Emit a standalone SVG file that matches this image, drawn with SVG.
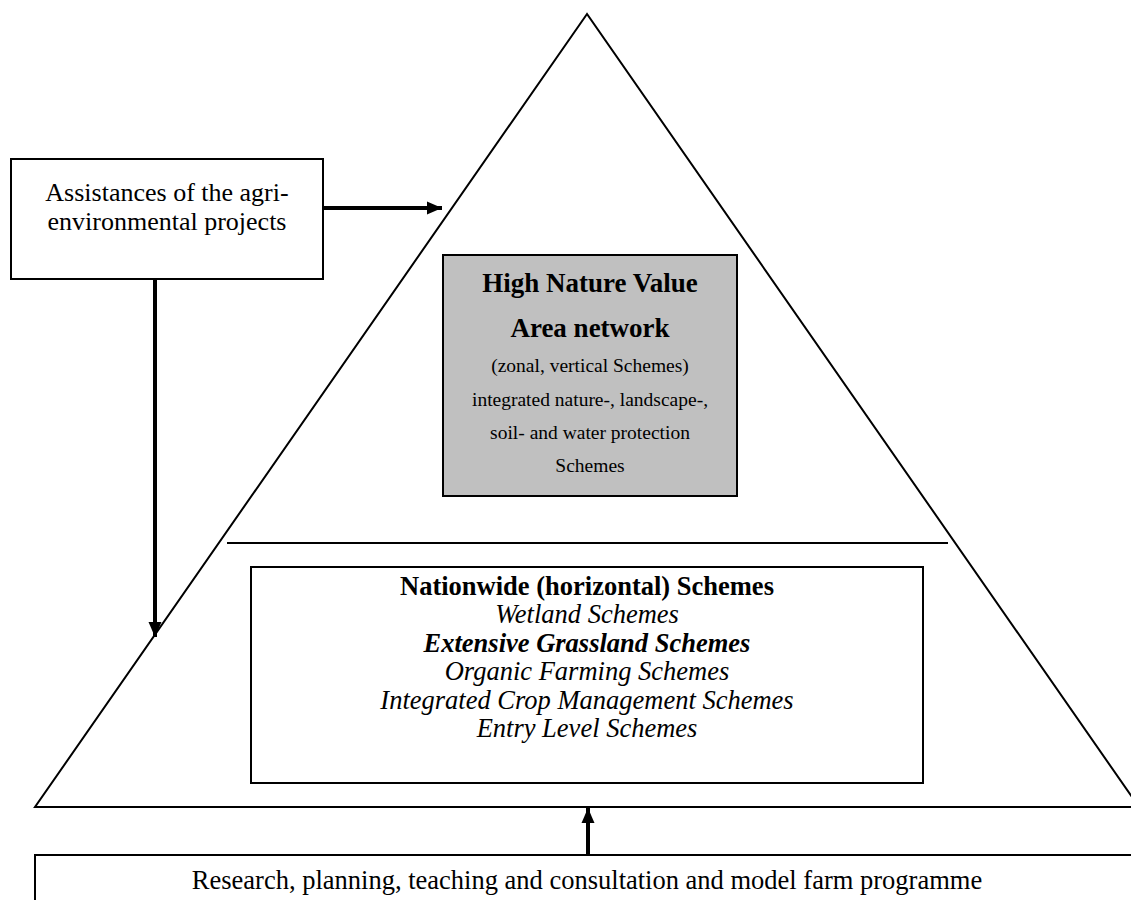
<svg xmlns="http://www.w3.org/2000/svg" width="1131" height="900" viewBox="0 0 1131 900">
<style>
.t{font-family:"Liberation Serif","Times New Roman",serif;fill:#000;text-anchor:middle}
.box{fill:#fff;stroke:#000;stroke-width:2}
.ln{fill:none;stroke:#000;stroke-width:2}
.arr{stroke:#000;stroke-width:4;fill:none}
</style>
<defs>
<marker id="ah" markerUnits="userSpaceOnUse" markerWidth="16" markerHeight="16" viewBox="0 0 16 16" refX="15" refY="8" orient="auto">
<path d="M0,1.5 L15,8 L0,14.5 Z" fill="#000"/>
</marker>
</defs>
<rect width="1131" height="900" fill="#fff"/>
<g id="pyramid">
<polygon class="ln" points="587,14 35,807 1139,807"/>
<line class="ln" x1="227" y1="543" x2="948" y2="543"/>
</g>
<g id="hnv">
<rect x="443" y="255" width="294" height="241" fill="#c0c0c0" stroke="#000" stroke-width="2"/>
<text class="t" x="590" y="292" font-size="27" font-weight="bold">High Nature Value</text>
<text class="t" x="590" y="337" font-size="27" font-weight="bold">Area network</text>
<text class="t" x="590" y="372" font-size="19.5">(zonal, vertical Schemes)</text>
<text class="t" x="590" y="406" font-size="19.5">integrated nature-, landscape-,</text>
<text class="t" x="590" y="439" font-size="19.5">soil- and water protection</text>
<text class="t" x="590" y="472" font-size="19.5">Schemes</text>
</g>
<g id="assist">
<rect class="box" x="11" y="159" width="312" height="120"/>
<text class="t" x="167" y="201" font-size="26">Assistances of the agri-</text>
<text class="t" x="167" y="230" font-size="26">environmental projects</text>
</g>
<g id="nationwide">
<rect class="box" x="251" y="567" width="672" height="216"/>
<text class="t" x="587" y="595" font-size="26.5" font-weight="bold">Nationwide (horizontal) Schemes</text>
<text class="t" x="587" y="623" font-size="26.5" font-style="italic">Wetland Schemes</text>
<text class="t" x="587" y="652" font-size="26.5" font-style="italic" font-weight="bold">Extensive Grassland Schemes</text>
<text class="t" x="587" y="680" font-size="26.5" font-style="italic">Organic Farming Schemes</text>
<text class="t" x="587" y="709" font-size="26.5" font-style="italic">Integrated Crop Management Schemes</text>
<text class="t" x="587" y="737" font-size="26.5" font-style="italic">Entry Level Schemes</text>
</g>
<g id="research">
<rect class="box" x="35" y="855" width="1110" height="60"/>
<text class="t" x="587" y="889" font-size="26.5">Research, planning, teaching and consultation and model farm programme</text>
</g>
<g id="connectors">
<line class="arr" x1="323" y1="208" x2="442" y2="208" marker-end="url(#ah)"/>
<line class="arr" x1="155" y1="279" x2="155" y2="637" marker-end="url(#ah)"/>
<line class="arr" x1="588" y1="855" x2="588" y2="808" marker-end="url(#ah)"/>
</g>
</svg>
